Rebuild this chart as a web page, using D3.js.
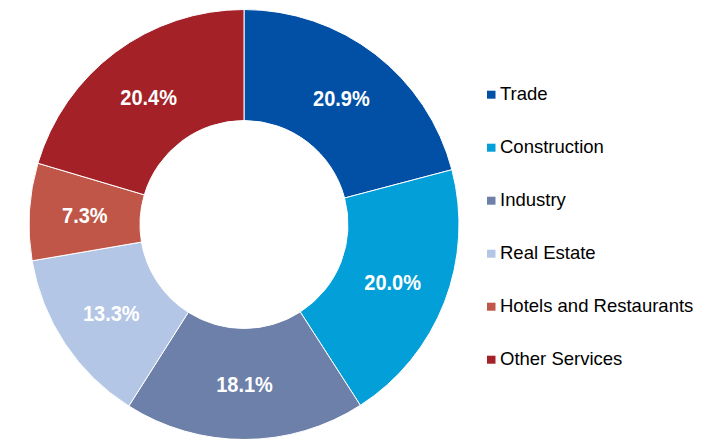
<!DOCTYPE html>
<html>
<head>
<script src="https://d3js.org/d3.v7.min.js"></script>
<style>
  body { margin: 0; background: #fff; }
  svg { display: block; font-family: "Liberation Sans", Arial, sans-serif; }
</style>
</head>
<body>
<svg id="chart" width="712" height="439"></svg>
<script>
// sector shares (%), clockwise from 12 o'clock
var sectors = ["Trade", "Construction", "Industry", "Real Estate", "Hotels and Restaurants", "Other Services"];
var shares = [20.9, 20.0, 18.1, 13.3, 7.3, 20.4];
var colors = ["#0150A6", "#029FD8", "#6D80A9", "#B3C6E6", "#C05647", "#A32127"];

var svg = d3.select("#chart");
var cx = 244, cy = 224.5, outerR = 215, innerR = 104;

var pie = d3.pie().sort(null).value(function(d) { return d; });
var arc = d3.arc().innerRadius(innerR).outerRadius(outerR);
var labelArc = d3.arc().innerRadius((innerR + outerR) / 2).outerRadius((innerR + outerR) / 2);

var g = svg.append("g").attr("transform", "translate(" + cx + "," + cy + ")");
var arcs = pie(shares);

g.selectAll("path")
    .data(arcs)
  .enter().append("path")
    .attr("d", arc)
    .attr("fill", function(d, i) { return colors[i]; })
    .attr("stroke", "#fff")
    .attr("stroke-width", 1);

// labels are a touch narrow in the original
g.selectAll("text")
    .data(arcs)
  .enter().append("text")
    .attr("transform", function(d) { return "translate(" + labelArc.centroid(d) + ") scale(0.93,1)"; })
    .attr("text-anchor", "middle")
    .attr("dy", "0.37em")
    .attr("fill", "#fff")
    .attr("font-weight", "bold")
    .attr("font-size", 21.5)
    .text(function(d) { return d.value.toFixed(1) + "%"; });

// legend
var legendY = d3.scalePoint().domain(sectors).range([94.7, 359.7]);
var items = svg.append("g").selectAll("g")
    .data(sectors)
  .enter().append("g")
    .attr("transform", function(d) { return "translate(487," + legendY(d) + ")"; });

items.append("rect")
    .attr("x", 0).attr("y", -4)
    .attr("width", 8.5).attr("height", 8)
    .attr("fill", function(d, i) { return colors[i]; });

items.append("text")
    .attr("x", 13)
    .attr("dy", "0.3em")
    .attr("font-size", 18.5)
    .attr("fill", "#000")
    .text(function(d) { return d; });
</script>
</body>
</html>
